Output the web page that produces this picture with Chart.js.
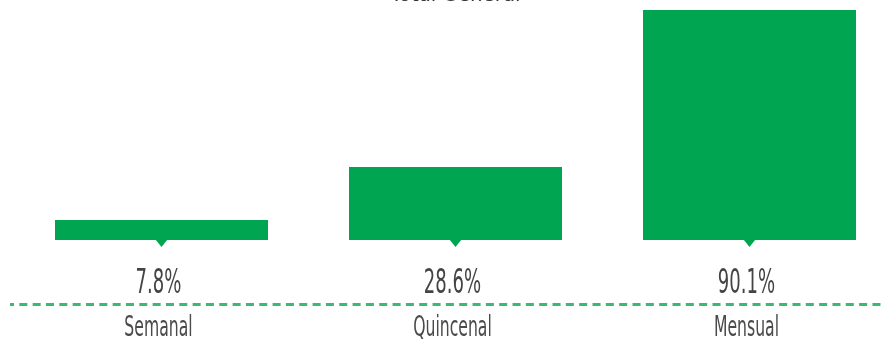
<!DOCTYPE html>
<html>
<head>
<meta charset="utf-8">
<script src="https://cdn.jsdelivr.net/npm/chart.js@4"></script>
<style>
  html, body { margin: 0; padding: 0; background: #fff; overflow: hidden; }
  #grafico { display: block; margin-top: -30px; }
</style>
</head>
<body>
<canvas id="grafico" width="900" height="369"></canvas>
<script>
// Datos del gráfico
const categorias = ["Semanal", "Quincenal", "Mensual"];
const valores = [7.8, 28.6, 90.1];
const titulo = "Total General";

const fuente = "'Liberation Sans Narrow', 'DejaVu Sans Condensed', sans-serif";

// Texto angosto (condensado) escalando en horizontal
function textoAngosto(ctx, texto, x, y, size, color, escala) {
    ctx.save();
    ctx.translate(x, y);
    ctx.scale(escala, 1);
    ctx.font = `${size}px ${fuente}`;
    ctx.fillStyle = color;
    ctx.textAlign = "center";
    ctx.textBaseline = "alphabetic";
    ctx.fillText(texto, 0, 0);
    ctx.restore();
}

const etiquetas = {
    id: "etiquetas",
    afterDatasetsDraw(chart) {
        const ctx = chart.ctx;
        const meta = chart.getDatasetMeta(0);
        const x = chart.scales.x;

        // Triangulitos debajo de cada barra
        meta.data.forEach(bar => {
            ctx.beginPath();
            ctx.moveTo(bar.x - 6, bar.base - 0.5);
            ctx.lineTo(bar.x + 6, bar.base - 0.5);
            ctx.lineTo(bar.x, bar.base + 7);
            ctx.closePath();
            ctx.fillStyle = "#00A551";
            ctx.fill();
        });

        // Valores y categorías
        categorias.forEach((cat, i) => {
            const px = x.getPixelForValue(i);
            textoAngosto(ctx, valores[i].toFixed(1) + "%", px - 3, chart.chartArea.bottom + 52.5, 34, "#444", 0.59);
            textoAngosto(ctx, cat, px - 3, chart.chartArea.bottom + 96, 29, "#4a4a4a", 0.6);
        });

        // Línea punteada
        const yLinea = chart.chartArea.bottom + 64.5;
        ctx.save();
        ctx.strokeStyle = "#3DB874";
        ctx.lineWidth = 3;
        ctx.setLineDash([8, 5.33]);
        ctx.lineDashOffset = 4;
        ctx.beginPath();
        ctx.moveTo(10, yLinea);
        ctx.lineTo(chart.width, yLinea);
        ctx.stroke();
        ctx.restore();
    }
};

const ctx = document.getElementById("grafico").getContext("2d");
const chart = new Chart(ctx, {
    type: "bar",
    data: {
        labels: categorias,
        datasets: [{
            label: titulo,
            data: valores,
            backgroundColor: "#00A551",
            borderWidth: 0,
            barPercentage: 0.7245,
            categoryPercentage: 1
        }]
    },
    options: {
        responsive: false,
        devicePixelRatio: 1,
        animation: false,
        layout: {
            padding: { left: 14.5, right: 3.5, top: 0, bottom: 99 }
        },
        plugins: {
            legend: { display: false },
            tooltip: { enabled: false },
            title: {
                display: true,
                text: titulo,
                color: "#333",
                font: { size: 22, family: fuente, weight: "normal" },
                padding: { top: 12, bottom: 1.6 }
            }
        },
        scales: {
            x: { display: false },
            y: { display: false, min: 0, max: 90.1 }
        }
    },
    plugins: [etiquetas]
});
</script>
</body>
</html>
